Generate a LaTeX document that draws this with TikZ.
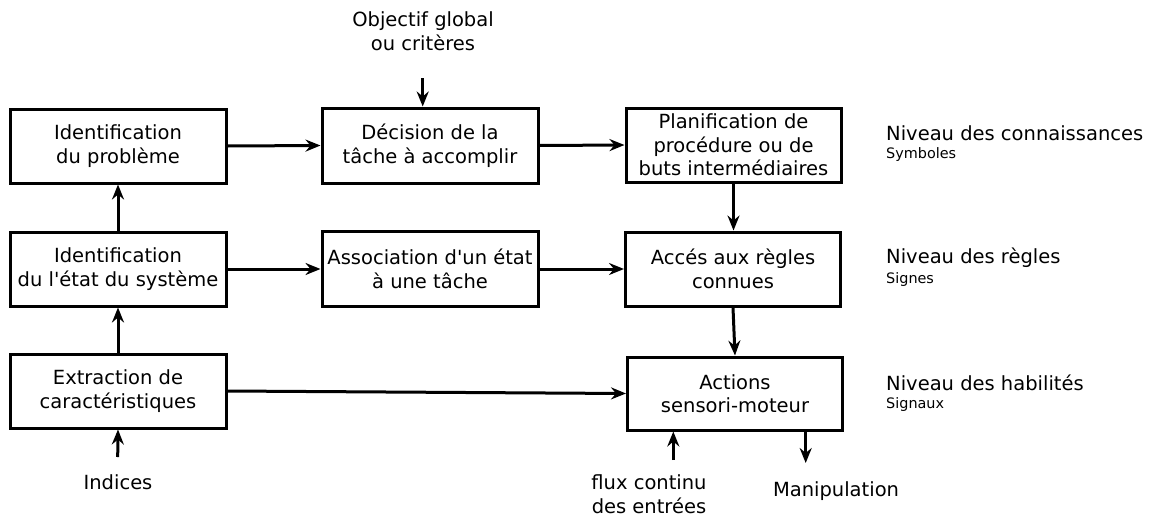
\documentclass[tikz,border=0pt]{standalone}
\usepackage{fontspec}
\setmainfont{DejaVu Sans}[Ligatures=TeXOff]
\usetikzlibrary{arrows.meta}
\begin{document}
\begin{tikzpicture}[x=1pt,y=-1pt,
  box/.style={draw=black,line width=3pt,fill=white,inner sep=0pt,align=center,
    font=\fontsize{19.5}{23.5}\selectfont},
  lbl/.style={inner sep=0pt,align=center,font=\fontsize{19.5}{23.5}\selectfont},
  small/.style={inner sep=0pt,anchor=west,font=\fontsize{14.4}{16}\selectfont},
  arr/.style={line width=3pt,-{Stealth[length=15pt,width=12pt,inset=5pt]}}]
\useasboundingbox (0,0) rectangle (1149,517);
% boxes
\node[box,minimum width=216pt,minimum height=74pt] (b1) at (118,146) {Identification\\du problème};
\node[box,minimum width=216pt,minimum height=75pt] (b2) at (430,145.5) {Décision de la\\tâche à accomplir};
\node[box,minimum width=215pt,minimum height=74pt] (b3) at (733.5,145) {Planification de\\procédure ou de\\buts intermédiaires};
\node[box,minimum width=216pt,minimum height=74pt] (b4) at (118,269) {Identification\\du l'état du système};
\node[box,minimum width=216pt,minimum height=75pt] (b5) at (430,269) {Association d'un état\\à une tâche};
\node[box,minimum width=215pt,minimum height=74pt] (b6) at (733,269) {Accés aux règles\\connues};
\node[box,minimum width=216pt,minimum height=74pt] (b7) at (118,391) {Extraction de\\caractéristiques};
\node[box,minimum width=215pt,minimum height=73pt] (b8) at (735,393.5) {Actions\\sensori-moteur};
% outside labels
\node[lbl] (obj) at (423,31) {Objectif global\\ou critères};
\node[lbl] (ind) at (118,482.5) {Indices};
\node[lbl] (flux) at (649,494) {flux continu\\des entrées};
\node[lbl] (manip) at (836,491) {Manipulation};
% level labels
\node[lbl,anchor=west] (n1) at (886,133) {Niveau des connaissances};
\node[small] (s1) at (886,155) {Symboles};
\node[lbl,anchor=west] (n2) at (886,257.5) {Niveau des règles};
\node[small] (s2) at (886,279.5) {Signes};
\node[lbl,anchor=west] (n3) at (886,383) {Niveau des habilités};
\node[small] (s3) at (886,405) {Signaux};
% free ends
\coordinate (objend) at (422.7,78);
\coordinate (indend) at (117.7,457);
\coordinate (fluxend) at (673.3,460);
\coordinate (manend) at (805.7,463);
% connectors
\draw[arr] (b1.east) -- (b2.west);
\draw[arr] (b2.east) -- (b3.west);
\draw[arr] (objend) -- (objend |- b2.north);
\draw[arr] (b3.south) -- (b3.south |- b6.north);
\draw[arr] (b4.north) -- (b1.south);
\draw[arr] (b4.east) -- (b5.west);
\draw[arr] (b5.east) -- (b6.west);
\draw[arr] (b7.north) -- (b4.south);
\draw[arr] (indend) -- (b7.south);
\draw[arr] (b6.south) -- (b8.north);
\draw[arr] (b7.east) -- (b8.west);
\draw[arr] (fluxend) -- (fluxend |- b8.south);
\draw[arr] (manend |- b8.south) -- (manend);
\end{tikzpicture}
\end{document}
